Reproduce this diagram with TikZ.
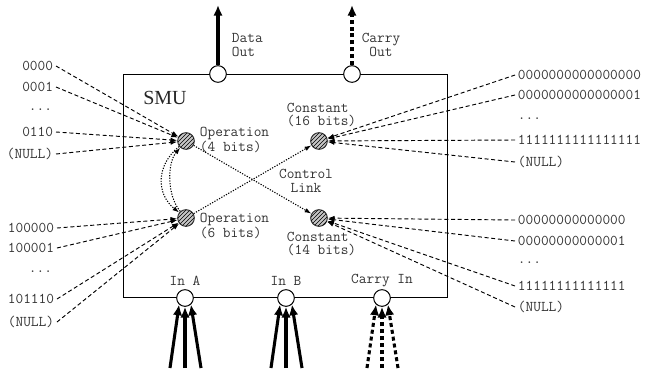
\documentclass[tikz,border=0pt]{standalone}
\usepackage{fontspec}
\setmainfont{Liberation Serif}
\usetikzlibrary{arrows.meta,patterns,calc}

\begin{document}
\begin{tikzpicture}[x=0.75pt,y=-0.75pt,
    lbl/.style={font=\ttfamily\fontsize{11.2}{10}\selectfont, text=black!80, inner sep=2pt},
    port/.style={draw, circle, fill=white, minimum size=12.5pt, inner sep=0pt, line width=0.75pt},
    reg/.style={draw=black!80, circle, fill=gray!45, postaction={pattern=north east lines},
        minimum size=12.5pt, inner sep=0pt, line width=0.75pt},
    feed/.style={dash pattern=on 3pt off 2pt, line width=0.7pt, -{Latex[length=5pt,width=3.5pt]}},
    ctrl/.style={dash pattern=on 0.9pt off 1.1pt, line width=0.8pt, -{Latex[length=5pt,width=3.5pt]}},
    bus/.style={line width=2.3pt, -{Latex[length=8pt,width=7pt]}},
    carry/.style={bus, dash pattern=on 3pt off 2.2pt}
]
\useasboundingbox (0,0) rectangle (656,376);

% the unit
\node[draw,
    line width=0.75pt,
    anchor=north west,
    minimum width=243pt,
    minimum height=167.25pt,
    inner sep=0pt
] (smu) at (123,74) {};
\node[font=\fontsize{15}{15}\selectfont, text=black!85] (smulbl) at (165,98) {SMU};

% ports
\node[port] (dout) at (218,74) {};
\node[port] (cout) at (352,74) {};
\node[port] (ina) at (185,298) {};
\node[port] (inb) at (286,298) {};
\node[port] (cin) at (382,298) {};

\coordinate (doutend) at (218,5);
\coordinate (coutend) at (352,5);
\draw[bus] (dout) -- (doutend);
\draw[carry] (cout) -- (coutend);

\node[lbl, anchor=west, align=left] (doutlbl) at (229,45) {Data\\Out};
\node[lbl, align=center] (coutlbl) at (381,45) {Carry\\Out};

\node[lbl] (inalbl) at (185,281) {In A};
\node[lbl] (inblbl) at (286,281) {In B};
\node[lbl] (cinlbl) at (382,281) {Carry In};

\foreach \p/\s in {ina/bus, inb/bus, cin/carry}{
    \foreach \i/\dx/\a in {1/-15/228, 2/0/270, 3/16/312}{
        \coordinate (\p\i) at ($(\p)+(\dx,70)$);
        \draw[\s] (\p\i) -- (\p.\a);
    }
}

% registers
\node[reg] (op4) at (186,141) {};
\node[reg] (op6) at (186,218) {};
\node[reg] (c16) at (319,141) {};
\node[reg] (c14) at (319,218) {};

\node[lbl, anchor=west, align=left] (op4lbl) at (197,140) {Operation\\(4 bits)};
\node[lbl, anchor=west, align=left] (op6lbl) at (197,226) {Operation\\(6 bits)};
\node[lbl, anchor=west, align=left] (c16lbl) at (284,115) {Constant\\(16 bits)};
\node[lbl, anchor=west, align=left] (c14lbl) at (284,244) {Constant\\(14 bits)};

% control link
\draw[ctrl] (op4) -- (c14);
\draw[ctrl] (op6) -- (c16);
\draw[ctrl] (op4) .. controls +(-30,24) and +(-30,-24) .. (op6);
\draw[ctrl] (op6) .. controls +(-19,-22) and +(-19,22) .. (op4);
\node[lbl, align=center] (link) at (306,181) {Control\\Link};

% values fed in
\foreach \n/\t/\y in {a/0000/66, b/0001/87, d/0110/132, e/(NULL)/154}{
    \node[lbl, anchor=east] (opa\n) at (56,\y) {\t};
    \draw[feed] (opa\n.east) -- (op4);
}
\node[lbl, anchor=east] (opadots) at (55,110) {...};

\foreach \n/\t/\y in {a/100000/228, b/100001/248, d/101110/299, e/(NULL)/322}{
    \node[lbl, anchor=east] (opb\n) at (57,\y) {\t};
    \draw[feed] (opb\n.east) -- (op6);
}
\node[lbl, anchor=east] (opbdots) at (55,272) {...};

\foreach \n/\t/\y in {a/0000000000000000/75, b/0000000000000001/95, d/1111111111111111/140, e/(NULL)/162}{
    \node[lbl, anchor=west] (ka\n) at (515,\y) {\t};
    \draw[feed] (ka\n.west) -- (c16);
}
\node[lbl, anchor=west] (kadots) at (515,119) {...};

\foreach \n/\t/\y in {a/00000000000000/220, b/00000000000001/241, d/11111111111111/286, e/(NULL)/307}{
    \node[lbl, anchor=west] (kb\n) at (515,\y) {\t};
    \draw[feed] (kb\n.west) -- (c14);
}
\node[lbl, anchor=west] (kbdots) at (515,263) {...};

\end{tikzpicture}
\end{document}
